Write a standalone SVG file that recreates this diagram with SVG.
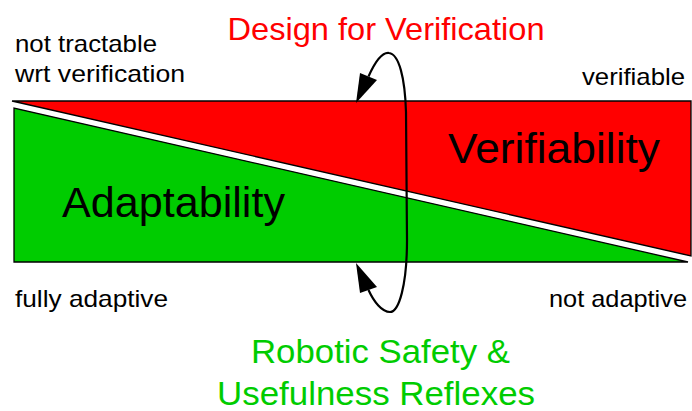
<svg xmlns="http://www.w3.org/2000/svg" width="692" height="411" viewBox="0 0 692 411">
  <style>
    text { font-family: "Liberation Sans", Arial, sans-serif; }
    .edge-label { font-size: 24px; fill: #000; }
    .big { font-size: 43px; fill: #000; }
    .wedge { stroke: #000; stroke-width: 1.3; stroke-linejoin: miter; }
    .loop { fill: none; stroke: #000; stroke-width: 2.2; }
    .head { fill: #000; }
  </style>

  <!-- Verifiability wedge (red, upper right) -->
  <g id="verifiability">
    <polygon class="wedge" points="12,101 691,101 691,256" fill="#ff0000"/>
    <text class="big" x="448" y="163" textLength="212" lengthAdjust="spacingAndGlyphs">Verifiability</text>
  </g>

  <!-- Adaptability wedge (green, lower left) -->
  <g id="adaptability">
    <polygon class="wedge" points="14,108 14,262 688,262" fill="#00cc00"/>
    <text class="big" x="62" y="217" textLength="223" lengthAdjust="spacingAndGlyphs">Adaptability</text>
  </g>

  <!-- Corner labels -->
  <g id="corner-labels">
    <text class="edge-label" x="15" y="52" textLength="142" lengthAdjust="spacingAndGlyphs">not tractable</text>
    <text class="edge-label" x="15" y="82" textLength="170" lengthAdjust="spacingAndGlyphs">wrt verification</text>
    <text class="edge-label" x="582" y="85" textLength="103" lengthAdjust="spacingAndGlyphs">verifiable</text>
    <text class="edge-label" x="15" y="307" textLength="153" lengthAdjust="spacingAndGlyphs">fully adaptive</text>
    <text class="edge-label" x="549" y="307" textLength="138" lengthAdjust="spacingAndGlyphs">not adaptive</text>
  </g>

  <!-- Loop connecting the two design drivers -->
  <g id="connectors">
    <path class="loop" d="M368.5,76.5 C375,62 382,52 389,53 C399,54 405,78 406,112 L407,240 C407,285 399,312 390,312 C382,312 374,302 368.5,290"/>
    <polygon class="head" points="356,103 360,73 377,80"/>
    <polygon class="head" points="356,263 360,293 377,287"/>
  </g>

  <!-- Driver labels -->
  <g id="design-for-verification">
    <text x="386" y="40" font-size="32" fill="#ff0000" text-anchor="middle" textLength="317" lengthAdjust="spacingAndGlyphs">Design for Verification</text>
  </g>
  <g id="safety-reflexes">
    <text x="380.5" y="363" font-size="34" fill="#00cc00" text-anchor="middle" textLength="259" lengthAdjust="spacingAndGlyphs">Robotic Safety &amp;</text>
    <text x="376" y="405" font-size="34" fill="#00cc00" text-anchor="middle" textLength="318" lengthAdjust="spacingAndGlyphs">Usefulness Reflexes</text>
  </g>
</svg>
